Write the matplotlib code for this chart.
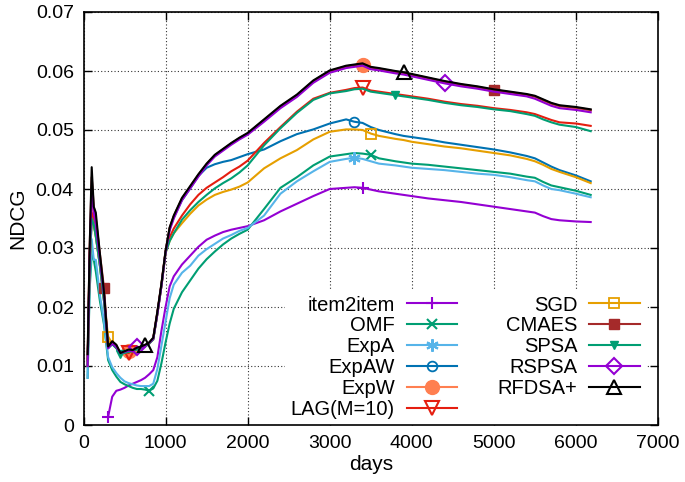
import numpy as np
import matplotlib
matplotlib.use("Agg")
import matplotlib.pyplot as plt

plt.rcParams['font.family'] = ['Liberation Sans', 'DejaVu Sans']

days = [50, 75, 100, 125, 150, 200, 250, 300, 350, 400, 450, 500, 550, 600, 650, 700, 750, 800, 850, 900,
        950, 1000, 1050, 1100, 1200, 1300, 1400, 1500, 1600, 1700, 1800, 1900, 2000, 2200, 2400, 2600, 2800,
        3000, 3200, 3300, 3400, 3500, 3600, 3800, 3900, 4000, 4200, 4400, 4600, 4800, 5000, 5200, 5400, 5500,
        5600, 5700, 5800, 6000, 6180]

nan = float('nan')
item2item = [nan, nan, nan, nan, nan, nan, nan, 0.0014, 0.0048, 0.0058, 0.0060, 0.0063, 0.0067, 0.0070, 0.0073,
             0.0076, 0.0080, 0.0086, 0.0093, 0.0115, 0.0160, 0.0200, 0.0235, 0.0252, 0.0272, 0.0287, 0.0302,
             0.0314, 0.0321, 0.0327, 0.0331, 0.0334, 0.0337, 0.0347, 0.0362, 0.0375, 0.0388, 0.0400, 0.0402,
             0.0403, 0.0402, 0.0399, 0.0396, 0.0392, 0.0390, 0.0388, 0.0384, 0.0381, 0.0378, 0.0374, 0.0370,
             0.0366, 0.0362, 0.0360, 0.0354, 0.0349, 0.0347, 0.0345, 0.0344]
omf = [0.008, 0.023, 0.029, 0.028, 0.026, 0.021, 0.017, 0.0110, 0.0093, 0.0082, 0.0073, 0.0069, 0.0066, 0.0063,
       0.0061, 0.0061, 0.0060, 0.0058, 0.0062, 0.0075, 0.0105, 0.0140, 0.0172, 0.0197, 0.0225, 0.0245, 0.0265,
       0.0281, 0.0294, 0.0306, 0.0316, 0.0324, 0.0331, 0.0366, 0.0402, 0.0420, 0.0440, 0.0455, 0.0459, 0.0461,
       0.0460, 0.0458, 0.0452, 0.0447, 0.0445, 0.0443, 0.0441, 0.0438, 0.0435, 0.0432, 0.0429, 0.0426, 0.0421,
       0.0419, 0.0412, 0.0406, 0.0403, 0.0397, 0.0390]
expa = [0.008, 0.024, 0.0315, 0.028, 0.028, 0.022, 0.0175, 0.0115, 0.0098, 0.0088, 0.0080, 0.0074, 0.0071, 0.0069,
        0.0067, 0.0066, 0.0066, 0.0066, 0.0070, 0.0095, 0.0135, 0.0175, 0.0215, 0.0238, 0.0258, 0.0270, 0.0287,
        0.0298, 0.0307, 0.0316, 0.0322, 0.0329, 0.0334, 0.0355, 0.0392, 0.0413, 0.0430, 0.0446, 0.0451, 0.0453,
        0.0451, 0.0447, 0.0443, 0.0440, 0.0438, 0.0436, 0.0434, 0.0432, 0.0429, 0.0426, 0.0424, 0.0420, 0.0415,
        0.0413, 0.0406, 0.0400, 0.0398, 0.0392, 0.0386]
expaw = [0.010, 0.027, 0.035, 0.034, 0.032, 0.027, 0.021, 0.0130, 0.0137, 0.0131, 0.0122, 0.0123, 0.0125, 0.0126,
         0.0128, 0.0130, 0.0133, 0.0138, 0.0146, 0.0189, 0.0237, 0.0294, 0.0333, 0.0352, 0.0381, 0.0401, 0.0422,
         0.0436, 0.0442, 0.0446, 0.0449, 0.0454, 0.0459, 0.0467, 0.0481, 0.0493, 0.0501, 0.0511, 0.0518, 0.0514,
         0.0512, 0.0505, 0.0500, 0.0493, 0.0490, 0.0488, 0.0484, 0.0479, 0.0475, 0.0471, 0.0467, 0.0462, 0.0456,
         0.0452, 0.0445, 0.0438, 0.0432, 0.0423, 0.0413]
expw = [0.011, 0.029, 0.038, 0.036, 0.034, 0.028, 0.022, 0.0131, 0.0140, 0.0134, 0.0123, 0.0124, 0.0126, 0.0127,
        0.0130, 0.0132, 0.0135, 0.0139, 0.0147, 0.0190, 0.0238, 0.0294, 0.0333, 0.0353, 0.0383, 0.0403, 0.0423,
        0.0442, 0.0457, 0.0467, 0.0477, 0.0486, 0.0494, 0.0516, 0.0539, 0.0558, 0.0582, 0.0599, 0.0607, 0.0610,
        0.0611, 0.0605, 0.0603, 0.0598, 0.0596, 0.0593, 0.0587, 0.0581, 0.0576, 0.0572, 0.0567, 0.0563, 0.0559,
        0.0556, 0.0550, 0.0544, 0.0540, 0.0537, 0.0533]
lag = [0.010, 0.028, 0.036, 0.035, 0.033, 0.028, 0.022, 0.0132, 0.0139, 0.0133, 0.0121, 0.0123, 0.0122, 0.0126,
       0.0129, 0.0131, 0.0134, 0.0139, 0.0146, 0.0189, 0.0237, 0.0293, 0.0318, 0.0333, 0.0355, 0.0374, 0.0390,
       0.0402, 0.0411, 0.0420, 0.0430, 0.0438, 0.0448, 0.0478, 0.0505, 0.0531, 0.0553, 0.0563, 0.0568, 0.0571,
       0.0572, 0.0567, 0.0565, 0.0561, 0.0559, 0.0557, 0.0553, 0.0548, 0.0544, 0.0541, 0.0537, 0.0534, 0.0530,
       0.0527, 0.0522, 0.0517, 0.0513, 0.0511, 0.0507]
sgd = [0.010, 0.027, 0.035, 0.034, 0.032, 0.027, 0.021, 0.0150, 0.0138, 0.0131, 0.0121, 0.0123, 0.0124, 0.0125,
       0.0128, 0.0130, 0.0133, 0.0138, 0.0145, 0.0188, 0.0236, 0.0292, 0.0312, 0.0325, 0.0342, 0.0358, 0.0372,
       0.0382, 0.0390, 0.0395, 0.0399, 0.0404, 0.0411, 0.0435, 0.0452, 0.0466, 0.0484, 0.0497, 0.0501, 0.0501,
       0.0500, 0.0494, 0.0490, 0.0485, 0.0483, 0.0480, 0.0476, 0.0472, 0.0469, 0.0465, 0.0461, 0.0457, 0.0451,
       0.0447, 0.0441, 0.0434, 0.0429, 0.0420, 0.0410]
cmaes = [0.011, 0.030, 0.042, 0.037, 0.035, 0.029, 0.0232, 0.0134, 0.0141, 0.0135, 0.0121, 0.0124, 0.0127, 0.0126,
         0.0130, 0.0132, 0.0135, 0.0139, 0.0147, 0.0191, 0.0239, 0.0295, 0.0334, 0.0354, 0.0384, 0.0404, 0.0424,
         0.0442, 0.0457, 0.0467, 0.0477, 0.0486, 0.0494, 0.0517, 0.0540, 0.0559, 0.0583, 0.0600, 0.0608, 0.0610,
         0.0612, 0.0606, 0.0604, 0.0599, 0.0597, 0.0594, 0.0588, 0.0582, 0.0577, 0.0573, 0.0568, 0.0564, 0.0560,
         0.0557, 0.0551, 0.0545, 0.0541, 0.0538, 0.0534]
spsa = [0.010, 0.027, 0.035, 0.034, 0.032, 0.027, 0.021, 0.0131, 0.0137, 0.0130, 0.0121, 0.0122, 0.0124, 0.0125,
        0.0128, 0.0130, 0.0133, 0.0138, 0.0145, 0.0188, 0.0236, 0.0292, 0.0312, 0.0325, 0.0348, 0.0364, 0.0378,
        0.0390, 0.0401, 0.0410, 0.0418, 0.0428, 0.0440, 0.0474, 0.0503, 0.0529, 0.0551, 0.0562, 0.0566, 0.0569,
        0.0570, 0.0565, 0.0563, 0.0559, 0.0557, 0.0555, 0.0551, 0.0546, 0.0542, 0.0539, 0.0535, 0.0532, 0.0527,
        0.0524, 0.0518, 0.0513, 0.0509, 0.0505, 0.0498]
rspsa = [0.010, 0.028, 0.040, 0.036, 0.034, 0.028, 0.022, 0.0130, 0.0138, 0.0132, 0.0122, 0.0124, 0.0126, 0.0125,
         0.0133, 0.0131, 0.0134, 0.0139, 0.0146, 0.0188, 0.0236, 0.0292, 0.0330, 0.0350, 0.0381, 0.0401, 0.0421,
         0.0440, 0.0455, 0.0465, 0.0475, 0.0484, 0.0492, 0.0514, 0.0537, 0.0556, 0.0580, 0.0597, 0.0605, 0.0607,
         0.0609, 0.0603, 0.0601, 0.0596, 0.0594, 0.0591, 0.0585, 0.0579, 0.0574, 0.0570, 0.0565, 0.0561, 0.0557,
         0.0553, 0.0547, 0.0541, 0.0537, 0.0534, 0.0530]
rfdsa = [0.012, 0.030, 0.0437, 0.037, 0.036, 0.029, 0.0225, 0.0133, 0.0142, 0.0136, 0.0122, 0.0125, 0.0128, 0.0127,
         0.0131, 0.0133, 0.0136, 0.0140, 0.0148, 0.0192, 0.0240, 0.0295, 0.0335, 0.0355, 0.0385, 0.0405, 0.0425,
         0.0443, 0.0458, 0.0468, 0.0478, 0.0487, 0.0495, 0.0518, 0.0541, 0.0560, 0.0584, 0.0601, 0.0609, 0.0611,
         0.0613, 0.0607, 0.0605, 0.0600, 0.0598, 0.0595, 0.0589, 0.0583, 0.0578, 0.0574, 0.0569, 0.0565, 0.0561,
         0.0558, 0.0552, 0.0546, 0.0542, 0.0539, 0.0535]

labels = ["item2item", "OMF", "ExpA", "ExpAW", "ExpW", "LAG(M=10)", "SGD", "CMAES", "SPSA", "RSPSA", "RFDSA+"]
values = [item2item, omf, expa, expaw, expw, lag, sgd, cmaes, spsa, rspsa, rfdsa]
marker_days = [[300, 3400], [800, 3500], [3300], [3300], [550, 3400], [550, 3400],
               [300, 3500], [250, 5000], [450, 3800], [650, 4400], [750, 3900]]

styles = [
    dict(color="#9400d3", marker="+", ms=9, mew=1.5),
    dict(color="#009e73", marker="x", ms=7, mew=1.5),
    dict(color="#56b4e9", marker=(6, 2, 0), ms=9, mew=1.5),
    dict(color="#0072b2", marker="o", ms=7, mfc="none", mew=1.3),
    dict(color="#ff7f50", marker="o", ms=10, mew=1.0),
    dict(color="#e51e10", marker="v", ms=10, mfc="none", mew=1.5),
    dict(color="#e69f00", marker="s", ms=7, mfc="none", mew=1.3),
    dict(color="#a52a2a", marker="s", ms=7, mew=1.0),
    dict(color="#009e73", marker="v", ms=6, mew=1.0),
    dict(color="#9400d3", marker="D", ms=8, mfc="none", mew=1.5),
    dict(color="black", marker="^", ms=10, mfc="none", mew=1.5),
]

xticks = [0, 1000, 2000, 3000, 4000, 5000, 6000, 7000]
yticks = [0, 0.01, 0.02, 0.03, 0.04, 0.05, 0.06, 0.07]
ytick_labels = ["0", "0.01", "0.02", "0.03", "0.04", "0.05", "0.06", "0.07"]

fig = plt.figure(figsize=(6.85, 4.82), dpi=100)
ax = fig.add_axes([83.5 / 685, (482 - 425) / 482, (658 - 83.5) / 685, (425 - 12) / 482])

for lab, vals, md, st in zip(labels, values, marker_days, styles):
    idx = [days.index(d) for d in md]
    ax.plot(days, vals, label=lab, lw=1.5, markevery=idx, **st)

ax.set_xlim(0, 7000)
ax.set_ylim(0, 0.07)
ax.set_xticks(xticks)
ax.set_xticklabels([str(t) for t in xticks])
ax.set_yticks(yticks)
ax.set_yticklabels(ytick_labels)
ax.tick_params(direction="in", length=6, width=1, top=True, right=True, labelsize=14, pad=7)
ax.grid(True, linestyle=(0, (1, 2)), color="black", linewidth=0.8, alpha=0.8)
for s in ax.spines.values():
    s.set_linewidth(1.2)
    s.set_zorder(6)
ax.set_xlabel("days", fontsize=15, labelpad=2)
ax.set_ylabel("NDCG", fontsize=15, labelpad=6)

leg = ax.legend(ncol=2, loc="lower right", bbox_to_anchor=(0.982, -0.004), markerfirst=False,
                fontsize=14.5, frameon=True, fancybox=False, edgecolor="none", facecolor="white",
                framealpha=1, handlelength=2.5, handletextpad=0.6, columnspacing=2.0,
                labelspacing=0.09, borderpad=0.3, borderaxespad=0.1)
for col in leg._legend_handle_box.get_children():
    col.align = "right"

fig.savefig("out.png", dpi=100)
